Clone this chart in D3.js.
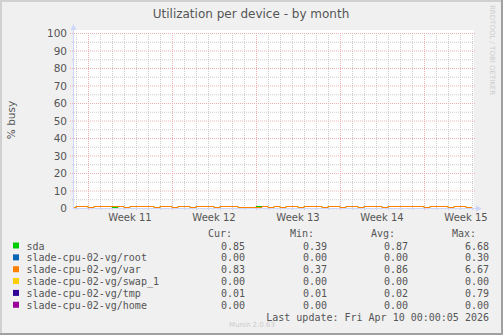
<!DOCTYPE html>
<html>
<head>
<meta charset="utf-8">
<script src="https://cdn.jsdelivr.net/npm/d3@7"></script>
<style>
  html, body { margin: 0; padding: 0; background: #f0f0f0; }
  svg { display: block; }
  text { font-family: "DejaVu Sans", sans-serif; fill: #555; }
  .mono { font-family: "DejaVu Sans Mono", monospace; }
</style>
</head>
<body>
<svg id="chart"></svg>
<script>
// series sampled every 12h, first point Mar 7 12:00 UTC, last Apr 10 00:00
const firstSample = Date.UTC(2026, 2, 7, 12);
const sampleStep = 12 * 3600 * 1000;

const sda = [
  0.88, 0.84, 0.91, 0.86, 0.82, 0.90, 0.87, 0.93, 0.85, 0.89,
  0.83, 0.92, 0.88, 0.86, 0.95, 0.84, 0.90, 0.87, 0.82, 0.91,
  0.88, 0.85, 0.93, 0.86, 0.89, 0.84, 0.92, 1.38, 1.42, 0.47,
  0.42, 0.45, 0.86, 0.90, 0.83, 0.88, 0.85, 0.92, 0.87, 0.84,
  0.91, 0.86, 0.89, 0.83, 0.94, 0.87, 0.85, 0.90, 0.88, 0.82,
  0.93, 0.86, 0.89, 0.84, 0.91, 0.87, 1.40, 1.36, 1.39, 0.88,
  0.84, 0.92, 0.86, 0.90, 0.83, 0.89, 0.87, 0.85
];
const root = [
  0.00, 0.00, 0.00, 0.00, 0.00, 0.00, 0.00, 0.00, 0.00, 0.00,
  0.00, 0.00, 0.00, 0.00, 0.00, 0.00, 0.00, 0.00, 0.00, 0.00,
  0.00, 0.00, 0.00, 0.00, 0.00, 0.00, 0.00, 0.01, 0.00, 0.00,
  0.00, 0.00, 0.00, 0.00, 0.00, 0.00, 0.00, 0.00, 0.00, 0.00,
  0.00, 0.00, 0.00, 0.00, 0.00, 0.00, 0.00, 0.00, 0.00, 0.00,
  0.00, 0.00, 0.00, 0.00, 0.00, 0.00, 0.01, 0.00, 0.00, 0.00,
  0.00, 0.00, 0.00, 0.00, 0.00, 0.00, 0.00, 0.00
];
const varVg = [
  0.87, 0.85, 0.89, 0.86, 0.83, 0.88, 0.87, 0.91, 0.86, 0.88,
  0.84, 0.90, 0.87, 0.86, 0.93, 0.85, 0.89, 0.86, 0.83, 0.90,
  0.87, 0.85, 0.91, 0.86, 0.88, 0.85, 0.90, 1.37, 1.41, 0.44,
  0.39, 0.43, 0.85, 0.89, 0.84, 0.87, 0.85, 0.90, 0.86, 0.85,
  0.89, 0.86, 0.88, 0.84, 0.92, 0.86, 0.85, 0.89, 0.87, 0.83,
  0.91, 0.86, 0.88, 0.85, 0.90, 0.86, 1.39, 1.35, 1.38, 0.87,
  0.85, 0.90, 0.86, 0.89, 0.84, 0.88, 0.86, 0.83
];
const swap1 = [
  0, 0, 0, 0, 0, 0, 0, 0, 0, 0, 0, 0, 0, 0, 0, 0, 0, 0, 0, 0,
  0, 0, 0, 0, 0, 0, 0, 0, 0, 0, 0, 0, 0, 0, 0, 0, 0, 0, 0, 0,
  0, 0, 0, 0, 0, 0, 0, 0, 0, 0, 0, 0, 0, 0, 0, 0, 0, 0, 0, 0,
  0, 0, 0, 0, 0, 0, 0, 0
];
const tmp = [
  0.02, 0.02, 0.02, 0.02, 0.02, 0.02, 0.02, 0.02, 0.02, 0.02,
  0.02, 0.02, 0.02, 0.02, 0.02, 0.02, 0.02, 0.02, 0.02, 0.02,
  0.02, 0.02, 0.02, 0.02, 0.02, 0.02, 0.02, 0.03, 0.03, 0.02,
  0.02, 0.02, 0.02, 0.02, 0.02, 0.02, 0.02, 0.02, 0.02, 0.02,
  0.02, 0.02, 0.02, 0.02, 0.02, 0.02, 0.02, 0.02, 0.02, 0.02,
  0.02, 0.02, 0.02, 0.02, 0.02, 0.02, 0.03, 0.03, 0.02, 0.02,
  0.02, 0.02, 0.02, 0.01, 0.01, 0.01, 0.01, 0.01
];
const home = [
  0, 0, 0, 0, 0, 0, 0, 0, 0, 0, 0, 0, 0, 0, 0, 0, 0, 0, 0, 0,
  0, 0, 0, 0, 0, 0, 0, 0, 0, 0, 0, 0, 0, 0, 0, 0, 0, 0, 0, 0,
  0, 0, 0, 0, 0, 0, 0, 0, 0, 0, 0, 0, 0, 0, 0, 0, 0, 0, 0, 0,
  0, 0, 0, 0, 0, 0, 0, 0
];

const seriesNames = ["sda", "slade-cpu-02-vg/root", "slade-cpu-02-vg/var",
  "slade-cpu-02-vg/swap_1", "slade-cpu-02-vg/tmp", "slade-cpu-02-vg/home"];
const seriesColors = ["#00cc00", "#0066b3", "#ff8000", "#ffcc00", "#330099", "#990099"];
const seriesValues = [sda, root, varVg, swap1, tmp, home];

// legend stats as printed
const curVals = ["0.85", "0.00", "0.83", "0.00", "0.01", "0.00"];
const minVals = ["0.39", "0.00", "0.37", "0.00", "0.01", "0.00"];
const avgVals = ["0.87", "0.00", "0.86", "0.00", "0.02", "0.00"];
const maxVals = ["6.68", "0.30", "6.67", "0.00", "0.79", "0.00"];

const yTicks = [0, 10, 20, 30, 40, 50, 60, 70, 80, 90, 100];
const weekLabels = ["Week 11", "Week 12", "Week 13", "Week 14", "Week 15"];
const weekStarts = [Date.UTC(2026, 2, 9), Date.UTC(2026, 2, 16), Date.UTC(2026, 2, 23),
  Date.UTC(2026, 2, 30), Date.UTC(2026, 3, 6)];

const width = 503, height = 335;
const plotL = 73, plotR = 473, plotT = 33, plotB = 208;

const svg = d3.select('#chart')
  .attr('width', width)
  .attr('height', height);

// frame
svg.append('rect').attr('width', width).attr('height', height).attr('fill', '#f0f0f0');
svg.append('rect').attr('x', 0).attr('y', 0).attr('width', width).attr('height', 2).attr('fill', '#d0d0d0');
svg.append('rect').attr('x', 0).attr('y', 0).attr('width', 2).attr('height', height).attr('fill', '#d0d0d0');
svg.append('rect').attr('x', 0).attr('y', height - 2).attr('width', width).attr('height', 2).attr('fill', '#a0a0a0');
svg.append('rect').attr('x', width - 2).attr('y', 0).attr('width', 2).attr('height', height).attr('fill', '#a0a0a0');

const x = d3.scaleUtc()
  .domain([Date.UTC(2026, 2, 7, 18), Date.UTC(2026, 3, 10, 2)])
  .range([plotL, plotR]);
const y = d3.scaleLinear().domain([0, 100]).range([plotB + 0.5, plotT + 0.5]);
const px = v => Math.round(x(v)) + 0.5;

// canvas
svg.append('rect')
  .attr('x', plotL).attr('y', 30)
  .attr('width', plotR - plotL + 1).attr('height', plotB - 30 + 1)
  .attr('fill', '#ffffff');

const minorColor = '#cccccc', majorColor = '#eeb0b0';
const grid = svg.append('g');
// minor grid: days and every 5%
const days = d3.utcDay.range(Date.UTC(2026, 2, 8), Date.UTC(2026, 3, 10, 1));
grid.selectAll('line.dmin')
  .data(days.filter(d => d.getUTCDay() !== 1))
  .join('line')
  .attr('x1', d => px(d)).attr('x2', d => px(d))
  .attr('y1', plotT).attr('y2', plotB + 2)
  .attr('stroke', minorColor).attr('stroke-dasharray', '1,1');
grid.selectAll('line.hmin')
  .data(d3.range(5, 100, 10))
  .join('line')
  .attr('x1', plotL - 1).attr('x2', plotR + 1)
  .attr('y1', d => y(d)).attr('y2', d => y(d))
  .attr('stroke', minorColor).attr('stroke-dasharray', '1,1');
// major grid: weeks and every 10%
grid.selectAll('line.dmaj')
  .data(weekStarts)
  .join('line')
  .attr('x1', d => px(d)).attr('x2', d => px(d))
  .attr('y1', plotT).attr('y2', plotB + 3)
  .attr('stroke', majorColor).attr('stroke-dasharray', '1,1');
grid.selectAll('line.hmaj')
  .data(yTicks.slice(1))
  .join('line')
  .attr('x1', plotL - 3).attr('x2', plotR + 2)
  .attr('y1', d => y(d)).attr('y2', d => y(d))
  .attr('stroke', majorColor).attr('stroke-dasharray', '1,1');

// y labels
svg.append('g').selectAll('text')
  .data(yTicks)
  .join('text')
  .attr('x', 67)
  .attr('y', d => y(d) + 3.5)
  .attr('text-anchor', 'end')
  .style('font-size', '10.5px')
  .text(d => d);

svg.append('text')
  .attr('transform', 'translate(15,120) rotate(-90)')
  .attr('text-anchor', 'middle')
  .style('font-size', '10.5px')
  .text('% busy');

// week labels, centred on the middle of each week
svg.append('g').selectAll('text')
  .data(weekStarts)
  .join('text')
  .attr('x', d => x(d3.utcHour.offset(new Date(d), 84)))
  .attr('y', 221)
  .attr('text-anchor', 'middle')
  .style('font-size', '10px')
  .text((d, i) => weekLabels[i]);

// data lines
svg.append('clipPath').attr('id', 'plotclip')
  .append('rect').attr('x', plotL).attr('y', plotT - 3).attr('width', plotR - plotL + 1).attr('height', plotB - plotT + 4);
const line = d3.line()
  .x((d, i) => x(new Date(firstSample + i * sampleStep)))
  .y(d => Math.round(y(d) - 0.5) + 0.5)
  .curve(d3.curveStepBefore);
svg.append('g').attr('clip-path', 'url(#plotclip)')
  .selectAll('path')
  .data(seriesValues)
  .join('path')
  .attr('d', d => line(d))
  .attr('fill', 'none')
  .attr('stroke', (d, i) => seriesColors[i])
  .attr('stroke-width', 1);

// axes with arrows
const axisColor = '#cfd6f8';
svg.append('line').attr('x1', plotL + 0.5).attr('x2', plotL + 0.5).attr('y1', plotB + 1).attr('y2', 28)
  .attr('stroke', axisColor);
svg.append('line').attr('x1', plotL).attr('x2', 477).attr('y1', plotB + 0.5).attr('y2', plotB + 0.5)
  .attr('stroke', axisColor);
svg.append('path').attr('d', `M${plotL - 2.5},30 L${plotL + 3.5},30 L${plotL + 0.5},24 Z`).attr('fill', axisColor);
svg.append('path').attr('d', `M476,${plotB - 2.5} L476,${plotB + 3.5} L482,${plotB + 0.5} Z`).attr('fill', axisColor);

// title and side texts
svg.append('text')
  .attr('x', 251).attr('y', 18)
  .attr('text-anchor', 'middle')
  .style('font-size', '12px')
  .text('Utilization per device - by month');

svg.append('text')
  .attr('transform', 'translate(490,5) rotate(90)')
  .style('font-size', '7px')
  .style('fill', '#cccccc')
  .text('RRDTOOL / TOBI OETIKER');

// legend
const legend = svg.append('g').attr('class', 'mono');
const colRight = [245, 327, 408, 489];
const headers = ["Cur:", "Min:", "Avg:", "Max:"];
legend.selectAll('text.hdr')
  .data(headers)
  .join('text')
  .attr('class', 'mono')
  .attr('x', (d, i) => colRight[i] - 13)
  .attr('y', 237)
  .attr('text-anchor', 'end')
  .style('font-size', '10px')
  .text(d => d);

const rowY = i => 249.5 + i * 11.85;
legend.selectAll('rect')
  .data(seriesNames)
  .join('rect')
  .attr('x', 13).attr('y', (d, i) => rowY(i) - 7)
  .attr('width', 6).attr('height', 6)
  .attr('fill', (d, i) => seriesColors[i]);
legend.selectAll('text.name')
  .data(seriesNames)
  .join('text')
  .attr('class', 'mono')
  .attr('x', 26.5).attr('y', (d, i) => rowY(i))
  .style('font-size', '10px')
  .text(d => d);
[curVals, minVals, avgVals, maxVals].forEach((col, c) => {
  legend.selectAll('text.c' + c)
    .data(col)
    .join('text')
    .attr('class', 'mono')
    .attr('x', colRight[c]).attr('y', (d, i) => rowY(i))
    .attr('text-anchor', 'end')
    .style('font-size', '10px')
    .text(d => d);
});

legend.append('text')
  .attr('class', 'mono')
  .attr('x', 489).attr('y', 320.5)
  .attr('text-anchor', 'end')
  .style('font-size', '10px')
  .text('Last update: Fri Apr 10 00:00:05 2026');

svg.append('text')
  .attr('x', 252).attr('y', 327)
  .attr('text-anchor', 'middle')
  .style('font-size', '7px')
  .style('fill', '#cccccc')
  .text('Munin 2.0.63');
</script>
</body>
</html>
